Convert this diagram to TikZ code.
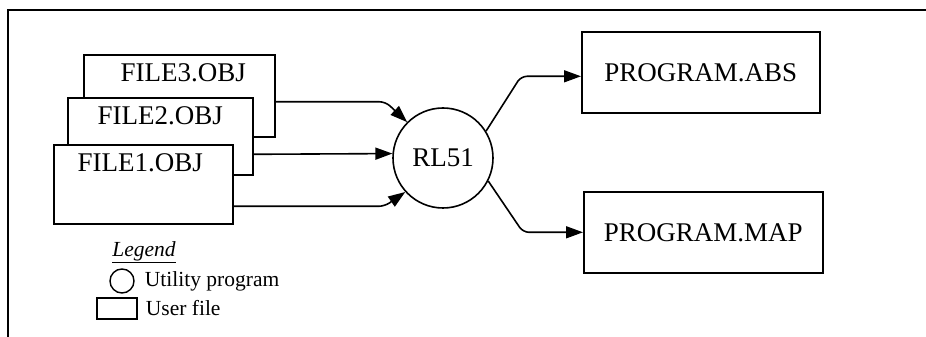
\documentclass[tikz,border=0pt]{standalone}
\usepackage{fontspec}
\setmainfont{Liberation Serif}
\usetikzlibrary{arrows.meta,positioning}

\tikzset{
  filebox/.style={draw, line width=1.6pt, fill=white, inner sep=0pt, anchor=north west},
  filetext/.style={anchor=north, inner sep=0pt, yshift=-9pt},
  arr/.style={line width=1.6pt, -{Triangle[length=17pt,width=12pt]}, rounded corners=6pt},
  legendtext/.style={inner sep=0pt, font=\fontsize{21.5}{24}\selectfont},
}

\begin{document}
\begin{tikzpicture}[x=1pt, y=1pt, every node/.style={font=\fontsize{27}{30}\selectfont}]
\useasboundingbox (0,0) rectangle (926,337);
\draw[line width=1.8pt] (8,0) -- (8,327) -- (926,327);

% object files
\node[filebox, minimum width=191pt, minimum height=82pt, label={[filetext, name=file3text, xshift=4pt]north:FILE3.OBJ}] (file3) at (83,283) {};
\node[filebox, minimum width=185pt, minimum height=77pt, label={[filetext, name=file2text]north:FILE2.OBJ}] (file2) at (67,240) {};
\node[filebox, minimum width=179pt, minimum height=79pt, label={[filetext, name=file1text, xshift=-3pt]north:FILE1.OBJ}] (file1) at (53,193) {};

% linker
\node[draw, circle, line width=1.6pt, minimum size=100pt, inner sep=0pt] (rl) at (443,179) {RL51};

% output files
\node[filebox, minimum width=238pt, minimum height=81pt] (abs) at (581,306) {PROGRAM.ABS};
\node[filebox, minimum width=239pt, minimum height=81pt] (map) at (583,146) {PROGRAM.MAP};

\draw[arr] ([yshift=-6pt]file3.east) -- ++(110,0) -- (rl.135);
\draw[arr] ([yshift=-18pt]file2.east) -- (rl.175);
\draw[arr] ([yshift=-22pt]file1.east) -- ++(151,0) -- (rl.222);
\draw[arr] (rl.32) -- ([xshift=-60pt,yshift=-4pt]abs.west) -- ([yshift=-4pt]abs.west);
\draw[arr] (rl.333) -- ([xshift=-60pt]map.west) -- (map.west);

% legend
\node[legendtext, font=\fontsize{21.5}{24}\selectfont\itshape] (legend) at (144,85) {\underline{Legend}};
\node[draw, circle, line width=1.4pt, minimum size=24pt, inner sep=0pt] (lcirc) at (122,56) {};
\node[legendtext, right=10pt of lcirc] (lcirctext) {Utility program};
\node[draw, line width=1.4pt, minimum width=40pt, minimum height=21pt, inner sep=0pt] (lrect) at (117,28.5) {};
\node[legendtext, right=8pt of lrect] (lrecttext) {User file};
\end{tikzpicture}
\end{document}
